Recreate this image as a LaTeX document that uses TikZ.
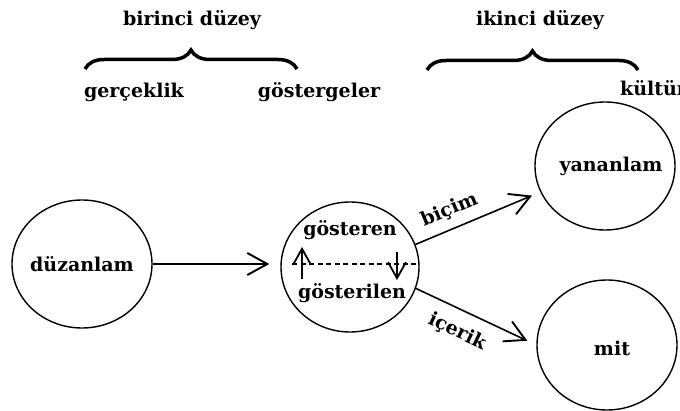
\documentclass[tikz,border=0pt]{standalone}
\usepackage{fontspec}
\setmainfont{DejaVu Serif}[BoldFont={DejaVu Serif Bold}]
\usetikzlibrary{arrows.meta,decorations.pathreplacing,shapes.geometric}
\tikzset{
  circ/.style={draw,ellipse,line width=1.4pt,minimum width=140pt,minimum height=128pt,inner sep=0pt},
  lbl/.style={font=\fontsize{19}{22}\selectfont\bfseries,inner sep=0pt},
  conn/.style={line width=1.6pt,-{Straight Barb[length=20pt,width=22pt,line width=1.9pt]}},
  small/.style={line width=1.4pt,-{Straight Barb[length=16pt,width=18pt,line width=1.8pt]}},
  brc/.style={line width=3.5pt,decorate,decoration={brace,amplitude=19pt,aspect=0.5}}
}
\begin{document}
\begin{tikzpicture}[x=1pt,y=1pt]
\useasboundingbox (0,0) rectangle (680,410);
\fill[white] (0,0) rectangle (680,410);
% top labels
\node[lbl] (bir) at (192,390) {birinci düzey};
\node[lbl] (ger) at (134,318) {gerçeklik};
\node[lbl] (gos) at (319,318) {göstergeler};
\node[lbl] (iki) at (540,390) {ikinci düzey};
\node[lbl,anchor=west] (kul) at (620,322) {kültür};
\coordinate (b1l) at (85,341);
\coordinate (b1r) at (297,341);
\coordinate (b2l) at (427,340);
\coordinate (b2r) at (638,340);
\draw[brc] (b1l) -- (b1r);
\draw[brc] (b2l) -- (b2r);
% circles
\node[circ] (duz) at (82,146) {};
\node[lbl] at (duz) {düzanlam};
\node[circ,minimum width=138pt,minimum height=130pt] (mid) at (350,143) {};
\node[lbl] (gst) at (350,180) {gösteren};
\node[lbl] (gsl) at (352,117) {gösterilen};
\node[circ] (yan) at (605,244) {};
\node[lbl] at (611,244) {yananlam};
\node[circ,minimum height=130pt] (mit) at (607,65) {};
\node[lbl] at (612,62) {mit};
% connectors
\draw[conn,shorten >=11pt] (duz.east) -- (duz.east -| mid.west);
\draw[conn,shorten >=9pt] (mid.19) -- (yan.202) node[lbl,above=9pt,sloped,pos=0.33] (bic) {biçim};
\draw[conn,shorten >=10pt] (mid.-18) -- (mit.west) node[lbl,below=12pt,sloped,pos=0.42] (ice) {içerik};
% inside middle
\coordinate (dl) at (292,146);
\coordinate (dr) at (418,146);
\draw[line width=1.1pt,dash pattern=on 5pt off 3.5pt] (dl) -- (dr);
\coordinate (ua) at (302,131);
\coordinate (ub) at (302,163);
\coordinate (da) at (397,158);
\coordinate (db) at (397,130);
\draw[small] (ua) -- (ub);
\draw[small] (da) -- (db);
\end{tikzpicture}
\end{document}
